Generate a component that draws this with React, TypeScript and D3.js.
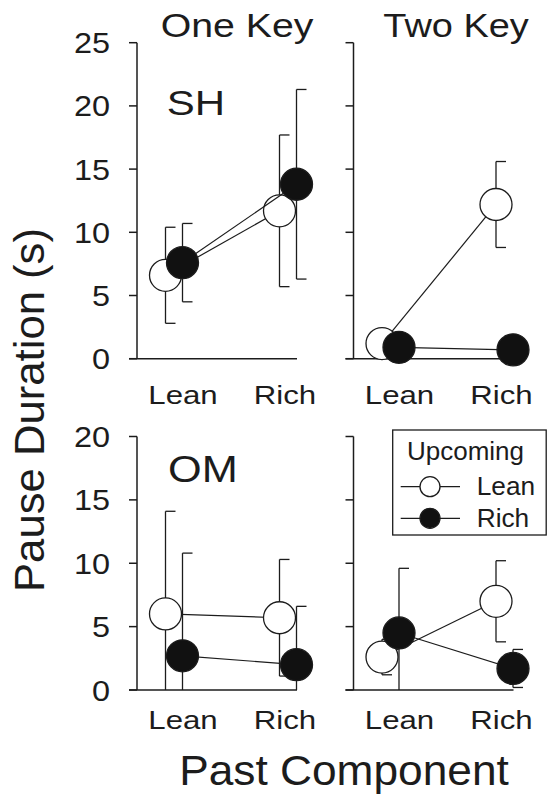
import * as d3 from "d3";

// past component (x categories)
const pastComponent = ["Lean", "Rich"];
const upcoming = ["Lean", "Rich"];

// y tick labels
const ticksTop = [0, 5, 10, 15, 20, 25];
const ticksBottom = [0, 5, 10, 15, 20];

// SH, one key
const shOneLeanMean = [6.6, 11.7];
const shOneLeanSem = [3.8, 6.0];
const shOneRichMean = [7.6, 13.8];
const shOneRichSem = [3.1, 7.5];
// SH, two key
const shTwoLeanMean = [1.2, 12.2];
const shTwoLeanSem = [0, 3.4];
const shTwoRichMean = [0.9, 0.7];
const shTwoRichSem = [0, 0];
// OM, one key
const omOneLeanMean = [6.0, 5.7];
const omOneLeanSem = [8.1, 4.6];
const omOneRichMean = [2.7, 2.0];
const omOneRichSem = [8.1, 4.6];
// OM, two key
const omTwoLeanMean = [2.6, 7.0];
const omTwoLeanSem = [1.4, 3.2];
const omTwoRichMean = [4.5, 1.7];
const omTwoRichSem = [5.1, 1.5];

const INK = "#1c1c1c";
const FONT = "'Liberation Sans', Arial, Helvetica, sans-serif";

type Series = { mean: number[]; sem: number[]; filled: boolean };

const STxt = ({ x, y, size, sx = 1, anchor = "start", rotate = 0, children }: any) => (
  <text
    transform={`translate(${x},${y})${rotate ? ` rotate(${rotate})` : ""} scale(${sx},1)`}
    fontSize={size}
    textAnchor={anchor}
    fill={INK}
    fontFamily={FONT}
  >
    {children}
  </text>
);

const Panel = ({ axisX, y0, y1, yMax, ticks, xEnd, labelY, showTicks, series }: any) => {
  const y = d3.scaleLinear().domain([0, yMax]).range([y0, y1]).clamp(true);
  const xMark = d3.scalePoint().domain(pastComponent).range([axisX + 37, axisX + 151]);
  const xLabel = d3.scalePoint().domain(pastComponent).range([axisX + 46, axisX + 148]);
  const offs = [-8.5, 8.5];
  const r = 16;

  return (
    <g>
      {/* axes */}
      <line x1={axisX} x2={axisX} y1={y(0)} y2={y(yMax)} stroke={INK} strokeWidth={1.5} />
      <line x1={axisX - 8} x2={axisX + xEnd} y1={y(0)} y2={y(0)} stroke={INK} strokeWidth={1.5} />
      {ticks.map((t: number) => (
        <g key={t}>
          <line x1={axisX - 8} x2={axisX} y1={y(t)} y2={y(t)} stroke={INK} strokeWidth={1.5} />
          {showTicks && (
            <STxt x={axisX - 27} y={y(t) + 10.5} size={29} sx={1.12} anchor="end">
              {t}
            </STxt>
          )}
        </g>
      ))}
      {pastComponent.map((c) => (
        <STxt key={c} x={xLabel(c)} y={labelY} size={26} sx={1.2} anchor="middle">
          {c}
        </STxt>
      ))}
      {series.map((s: Series, si: number) => {
        const px = (i: number) => (xMark(pastComponent[i]) as number) + offs[si];
        const pts = s.mean.map((m, i) => [px(i), y(m)] as [number, number]);
        const line = d3.line()(pts);
        return (
          <g key={si}>
            <path d={line || ""} fill="none" stroke={INK} strokeWidth={1.2} />
            {s.mean.map((m, i) => {
              const e = s.sem[i];
              if (!e) return null;
              const hi = m + e;
              const lo = m - e;
              return (
                <g key={i} stroke={INK} strokeWidth={1.3}>
                  <line x1={px(i)} x2={px(i)} y1={y(hi)} y2={y(lo)} />
                  <line x1={px(i)} x2={px(i) + 10} y1={y(hi)} y2={y(hi)} />
                  {lo > 0 && <line x1={px(i)} x2={px(i) + 10} y1={y(lo)} y2={y(lo)} />}
                </g>
              );
            })}
            {pts.map((p, i) => (
              <circle
                key={i}
                cx={p[0]}
                cy={p[1]}
                r={r}
                fill={s.filled ? "#111" : "#fff"}
                stroke={INK}
                strokeWidth={1.3}
              />
            ))}
          </g>
        );
      })}
    </g>
  );
};

export default function App() {
  const leftX = 137;
  const rightX = 353.5;
  const top = { y0: 358.7, y1: 42.7, yMax: 25, ticks: ticksTop, labelY: 404 };
  const bottom = { y0: 690, y1: 436.5, yMax: 20, ticks: ticksBottom, labelY: 729 };

  return (
    <svg width={547} height={796} style={{ display: "block", position: "absolute", left: 0, top: 0, background: "#fff" }}>
      <rect width={547} height={796} fill="#fff" />
      <Panel
        {...top}
        axisX={leftX}
        xEnd={160}
        showTicks
        series={[
          { mean: shOneLeanMean, sem: shOneLeanSem, filled: false },
          { mean: shOneRichMean, sem: shOneRichSem, filled: true },
        ]}
      />
      <Panel
        {...top}
        axisX={rightX}
        xEnd={171}
        showTicks={false}
        series={[
          { mean: shTwoLeanMean, sem: shTwoLeanSem, filled: false },
          { mean: shTwoRichMean, sem: shTwoRichSem, filled: true },
        ]}
      />
      <Panel
        {...bottom}
        axisX={leftX}
        xEnd={160}
        showTicks
        series={[
          { mean: omOneLeanMean, sem: omOneLeanSem, filled: false },
          { mean: omOneRichMean, sem: omOneRichSem, filled: true },
        ]}
      />
      <Panel
        {...bottom}
        axisX={rightX}
        xEnd={160}
        showTicks={false}
        series={[
          { mean: omTwoLeanMean, sem: omTwoLeanSem, filled: false },
          { mean: omTwoRichMean, sem: omTwoRichSem, filled: true },
        ]}
      />

      {/* titles */}
      <STxt x={160.7} y={36.7} size={33} sx={1.19}>One Key</STxt>
      <STxt x={383.3} y={36.7} size={33} sx={1.15}>Two Key</STxt>
      <STxt x={166.7} y={115} size={35} sx={1.2}>SH</STxt>
      <STxt x={168} y={481.7} size={37} sx={1.17}>OM</STxt>

      {/* axis titles */}
      <STxt x={44} y={410} size={42} sx={1.04} anchor="middle" rotate={-90}>
        Pause Duration (s)
      </STxt>
      <STxt x={344} y={785} size={43} sx={1.03} anchor="middle">
        Past Component
      </STxt>

      {/* legend */}
      <g>
        <rect x={392.7} y={430} width={153.5} height={105} fill="#fff" stroke={INK} strokeWidth={1.3} />
        <STxt x={407} y={460} size={25} sx={1.04}>Upcoming</STxt>
        {upcoming.map((u, i) => {
          const ly = 486.7 + i * 31.6;
          return (
            <g key={u}>
              <line x1={400.7} x2={460} y1={ly} y2={ly} stroke={INK} strokeWidth={1.2} />
              <circle cx={430} cy={ly} r={10} fill={i ? "#111" : "#fff"} stroke={INK} strokeWidth={1.3} />
              <STxt x={476.7} y={ly + 8.5} size={25} sx={1.05}>{u}</STxt>
            </g>
          );
        })}
      </g>
    </svg>
  );
}
